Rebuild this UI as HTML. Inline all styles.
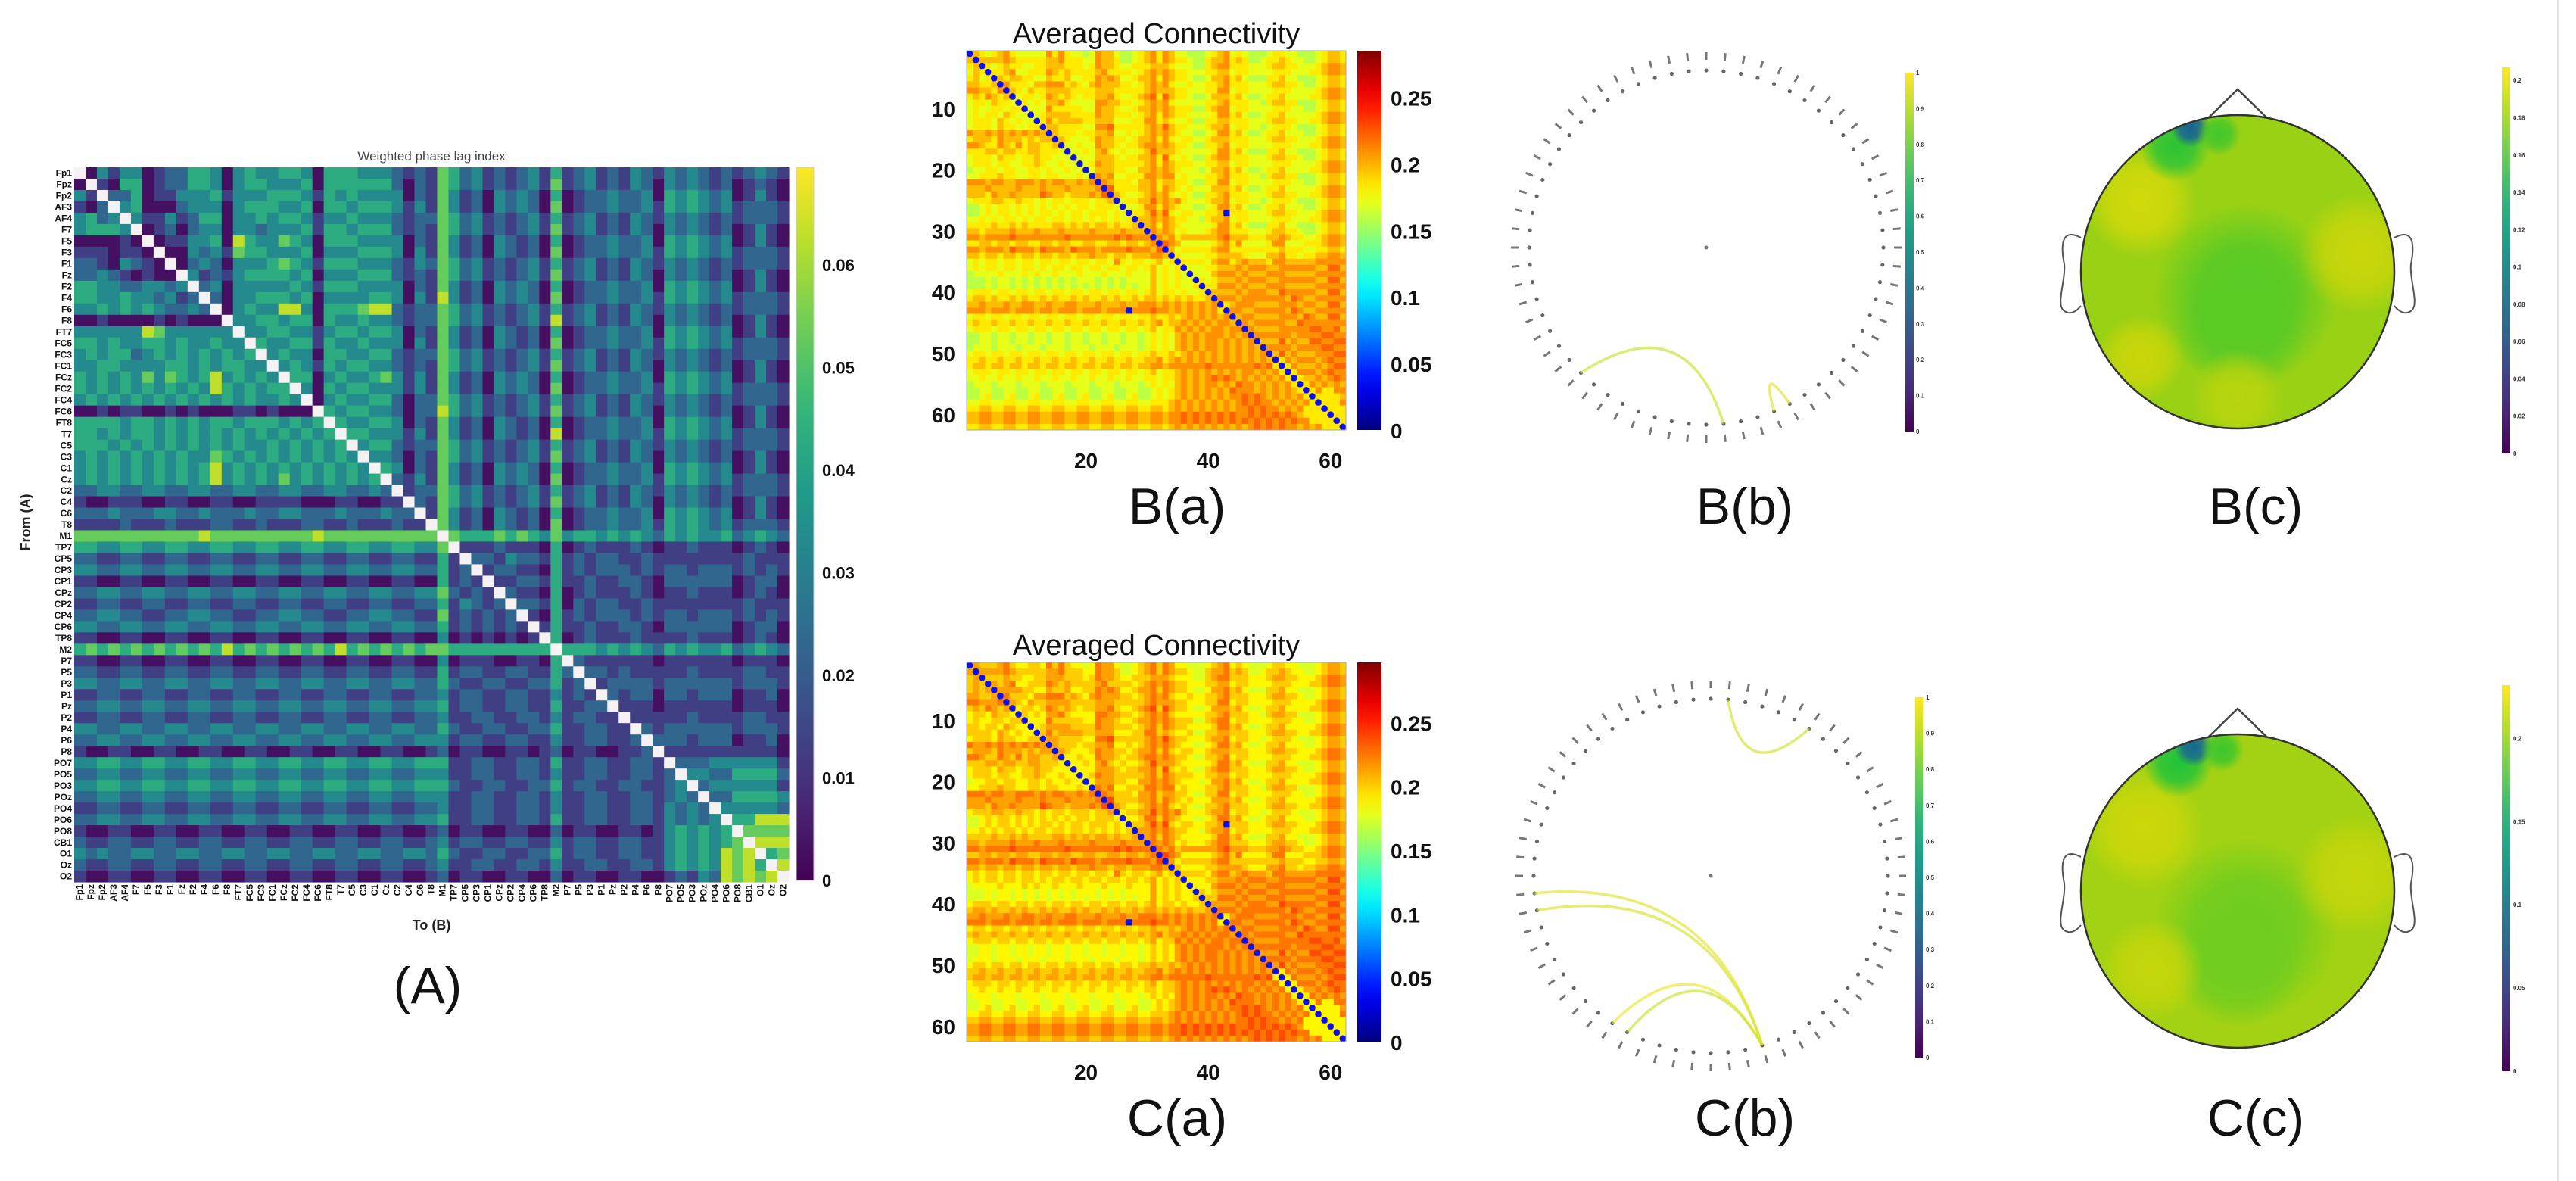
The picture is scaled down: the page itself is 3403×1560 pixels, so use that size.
<!DOCTYPE html>
<html><head><meta charset="utf-8"><title>Connectivity figure</title>
<style>
html,body{margin:0;padding:0;background:#fff;}
#fig{position:absolute;left:0;top:0;width:3403px;height:1560px;overflow:hidden;background:#fff;}
svg text{font-family:"Liberation Sans",Arial,sans-serif;}
</style></head>
<body>
<div id="fig">
<svg id="svg" width="3403" height="1560" viewBox="0 0 3403 1560" xmlns="http://www.w3.org/2000/svg"></svg>
</div>
<script>
// ================= DATA =================
const channelNames = ["Fp1","Fpz","Fp2","AF3","AF4","F7","F5","F3","F1","Fz","F2","F4","F6","F8","FT7","FC5","FC3","FC1","FCz","FC2","FC4","FC6","FT8","T7","C5","C3","C1","Cz","C2","C4","C6","T8","M1","TP7","CP5","CP3","CP1","CPz","CP2","CP4","CP6","TP8","M2","P7","P5","P3","P1","Pz","P2","P4","P6","P8","PO7","PO5","PO3","POz","PO4","PO6","PO8","CB1","O1","Oz","O2"];
// (A) wPLI lower-triangle levels (digit * scale)
const wpliRows = [
"","0","31","102","3423","34443","000010","1110110","22103210","223210100",
"4433223323","44334332312","334343432232","0010000101000","33333365333333","443433443433433","3434423434343434","33443333443434433","434343535434634343","4343434343436434344",
"34343434343434343343","001011001010001101000","4444344343434434443434","44343443434343434343434","444343434343434334343434","3434343434335434343434343","34343434343463434343434343","343434343434634343534343434","2233223322332233223322332232","10011100110011001111000110011",
"222322233223222322332223222322","1111211121112211211122112111211","55555555555655555555565555555555","443344334433443344334433443344335","2211221122112211221122112211221141","33223322332233223322332233223322412","110011001100110011001100110011004121","2233223322332233223322332233223352121","11221122112211221122112211221122413212","223322112233221122332211223322115121212",
"3322332233223322332233223322332241212121","11001100110011001100110011001100301010101","454545454545464545454546454545455444444444","1100110011001100110011001100110030111001104","22112211221122112211221122112211412211221142","332233223322332233223322332233224211221122412","1122112211221122112211221122112231221122113121","22332233223322332233223322332233412211221141122","112211221122112211221122112211223112211221312211","3322332233223322332233223322332242112211224112211",
"22332233223322332233223322332233312211221131122112","10011001100110011001100110011001201100110120110011","3344334433443344334433443344334441122112214112211221","22332233223322332233223322332233311221122131122112212","334433443344334433443344334433444211221122412211221123","2233223322332233223322332233223331122112213112211221232","11221122112211221122112211221122311221122131122112213232","223322332233223322332233223322334112211221411221122132323","1001100110011001100110011001100120110011002011001101343434","21122112211221122112211221122112312211221131221122113434345",
"323223322332233223322332233223324211221122412211221134343656","2112211221122112211221122112211231122112213112211221343436564","10011001100110011001100110011001201100110020110011001213265656"
];
const wpliScale = 0.0100;
const wpliMax = 0.0695;
const wpliTicks = [0, 0.01, 0.02, 0.03, 0.04, 0.05, 0.06];
const wpliTickLabels = ["0","0.01","0.02","0.03","0.04","0.05","0.06"];

// B(a) / C(a) averaged connectivity lower-triangle levels (base + digit*step), z = 0
const connRowsB = [
"","5","45","354","4534","55445","665546","4546545","34435443","343344344",
"3434435433","34443543433","344435443344","6556565656565","45554655545455","665446546455445","4445545544554443","34443544344544333","344434433445433433","2334434433443433433",
"33444544334434433343","666566556665656655656","5556555565556555655556","55546556555576554555657","344455445443434434443445","2234344343434343434434443","22343443434344343443444343","334343443434434434434343434","4444544545444455454545545445","55455556555655565555655556555",
"665666676666666676666666767666","4455455455445545544554455455456","66566657666576665766656666766657","554554554554554554556554554555665","3434434434434434434434436434434534","34344344344343443443443443443453434","233334333434334333433343334333534343","2223233232323232323332323233335343433","22232332323232323232323232323353434334","344434434434434434434434434434534434334",
"4554544545445454454544545445455454545445","55655565566556556655565556556665656565656","66656665666566566656665666z66676656565656","3443443443443443443443443443445445456565656","45445445445445445445445445445456455656565665","344434434434434434434434434434534465656566566","2233233233233233233233233233234343565656665656","22332332332332332332332332332343435656566565656","233323332333233323332333233323434356565665656565","3443443443443443443443443443445445456565656565656",
"44544544544544544544544544544556456565656565656565","45545545545545545545545545545566566666676666666767","344434434434434434434434434434534456565656565665656","3343343343343343343343343343344344565656767656565656","23332333233323332333233323332343435656566565766565656","223322332233223322332233223322343456565656576665656565","2234223422342234223422342234223434565656565667676565656","33443344334433443344334433443344456565656565676766565656","4455445544554455445544554455445545656565656566767665656","5566556655665566556655665566556656676767676766767676765",
"55665566556655665566556655665566566767676767676767676766","4455445544554455445544554455445545656565656565676767665656"
];
const connRowsC = [
"","6","56","565","5656","66556","776667","5657656","45546554","454455455",
"5545546544","55554654544","455546554455","7667676767676","56665766656566","776557657566556","5556656655665554","45554655455655444","455545544556544544","3445545544554544544",
"44555655445545544454","777677667776767766767","6667666676667666766667","66657667666687665666768","455566556554545545554556","3345455454545454545545554","33454554545455454554555454","445454554545545545545454545","5555655656555566565656656556","66566667666766676666766667666",
"776777787777777787777777878777","5566566566556656655665566566567","77677768777687776877767777877768","665665665665665665667665665666776","4545545545545545545545547545545645","45455455455454554554554554554564545","344445444545445444544454445444645454","3334344343434343434443434344446454544","33343443434343434343434343434464545445","455545545545545545545545545545645545445",
"5665655656556565565655656556566565656556","66766676677667667766676667667776767676767","77767776777677677767776777z77787767676767","4554554554554554554554554554556556567676767","56556556556556556556556556556567566767676776","455545545545545545545545545545645576767677677","3344344344344344344344344344345454676767776767","33443443443443443443443443443454546767677676767","344434443444344434443444344434545467676776767676","4554554554554554554554554554556556567676767676767",
"55655655655655655655655655655667567676767676767676","56656656656656656656656656656677677777787777777878","455545545545545545545545545545645567676767676776767","4454454454454454454454454454455455676767878767676767","34443444344434443444344434443454546767677676877676767","334433443344334433443344334433454567676767687776767676","3345334533453345334533453345334545676767676778787676767","44554455445544554455445544554455567676767676787877676767","5566556655665566556655665566556656767676767677878776767","6677667766776677667766776677667767787878787877878787876",
"66776677667766776677667766776677677878787878787878787877","5566556655665566556655665566556656767676767676787878776767"
];
const connBaseB = 0.134;
const connBaseC = 0.138;
const connStep = 0.0125;
const connMaxB = 0.285;
const connMaxC = 0.297;
const connTicks = [0, 0.05, 0.1, 0.15, 0.2, 0.25];
const connTickLabels = ["0","0.05","0.1","0.15","0.2","0.25"];
const connAxisTicks = [10, 20, 30, 40, 50, 60];
const connXTicks = [20, 40, 60];

// circle plots
const nodeCount = 64;
const chordPairsB = [[40, 31], [28, 27]];
const chordStrengthB = [0.92, 0.95];
const chordPairsC = [[1, 6], [47, 29], [46, 29], [38, 29], [37, 29]];
const chordStrengthC = [0.93, 0.95, 0.94, 0.97, 0.92];
const circleTicks = [0, 0.1, 0.2, 0.3, 0.4, 0.5, 0.6, 0.7, 0.8, 0.9, 1];
const circleTickLabels = ["0","0.1","0.2","0.3","0.4","0.5","0.6","0.7","0.8","0.9","1"];

// topomaps (normalized head coords, values)
const topoBaseB = 0.166;
const topoSpotX_B = [0.05, 0.02, -0.62, 0.78, -0.62, 0.0, -0.4, -0.3, -0.12];
const topoSpotY_B = [0.15, 0.35, -0.45, -0.12, 0.55, 0.8, -0.8, -0.92, -0.88];
const topoSpotR_B = [0.42, 0.3, 0.26, 0.28, 0.2, 0.22, 0.16, 0.09, 0.1];
const topoSpotV_B = [0.145, 0.147, 0.19, 0.185, 0.185, 0.178, 0.13, 0.05, 0.14];
const topoMaxB = 0.207;
const topoTicksB = [0, 0.02, 0.04, 0.06, 0.08, 0.1, 0.12, 0.14, 0.16, 0.18, 0.2];
const topoTickLabelsB = ["0","0.02","0.04","0.06","0.08","0.1","0.12","0.14","0.16","0.18","0.2"];

const topoBaseC = 0.19;
const topoSpotX_C = [0.05, 0.0, -0.6, 0.75, -0.55, -0.38, -0.28, -0.1];
const topoSpotY_C = [0.25, 0.45, -0.4, -0.1, 0.5, -0.82, -0.92, -0.9];
const topoSpotR_C = [0.42, 0.3, 0.28, 0.28, 0.24, 0.16, 0.09, 0.1];
const topoSpotV_C = [0.17, 0.172, 0.21, 0.205, 0.205, 0.14, 0.06, 0.155];
const topoMaxC = 0.232;
const topoTicksC = [0, 0.05, 0.1, 0.15, 0.2];
const topoTickLabelsC = ["0","0.05","0.1","0.15","0.2"];

// ================= HELPERS =================
const NS = "http://www.w3.org/2000/svg";
const svg = document.getElementById("svg");
function mk(tag, attrs, parent) {
  const e = document.createElementNS(NS, tag);
  for (const k in attrs) e.setAttribute(k, attrs[k]);
  (parent || svg).appendChild(e);
  return e;
}
function txt(str, attrs, parent) {
  const e = mk("text", attrs, parent);
  e.textContent = str;
  return e;
}
function lerpColor(stops, t) {
  t = Math.max(0, Math.min(1, t));
  const n = stops.length - 1, p = t * n, i = Math.min(n - 1, Math.floor(p)), f = p - i;
  const a = stops[i], b = stops[i + 1];
  const c = [0, 1, 2].map(k => Math.round(a[k] + (b[k] - a[k]) * f));
  return "rgb(" + c.join(",") + ")";
}
const VIR = [[68,1,84],[72,40,120],[62,73,137],[49,104,142],[38,130,142],[31,158,137],[53,183,121],[110,206,88],[181,222,43],[253,231,37]];
const TOPO = [[60,10,110],[40,50,150],[25,90,150],[15,130,140],[8,165,110],[10,192,70],[60,198,45],[140,208,24],[200,214,10],[240,224,10]];
function viridis(t) { return lerpColor(VIR, t); }
function topoColor(t) { return lerpColor(TOPO, t); }
function jet(t) {
  t = Math.max(0, Math.min(1, t));
  const cl = v => Math.round(255 * Math.max(0, Math.min(1, v)));
  return "rgb(" + cl(1.5 - Math.abs(4 * t - 3)) + "," + cl(1.5 - Math.abs(4 * t - 2)) + "," + cl(1.5 - Math.abs(4 * t - 1)) + ")";
}
const defs = mk("defs", {});
let gradId = 0;
function vGradient(fn) {
  const id = "g" + (gradId++);
  const g = mk("linearGradient", {id: id, x1: "0", y1: "1", x2: "0", y2: "0"}, defs);
  for (let i = 0; i <= 20; i++) mk("stop", {offset: (i / 20), "stop-color": fn(i / 20)}, g);
  return id;
}

// ================= PANEL A =================
(function () {
  const x0 = 98, y0 = 221, size = 944, n = channelNames.length, cs = size / n;
  const xs = i => x0 + i * cs, ys = i => y0 + i * cs;
  const color = v => viridis(v / wpliMax);
  const g = mk("g", {});
  
  
  function val(i, j) {
    const r = Math.max(i, j), c = Math.min(i, j);
    const ch = (wpliRows[r] || "")[c] || "2";
    return Math.min(wpliMax, parseInt(ch, 10) * wpliScale + 0.003);
  }
  for (let i = 0; i < n; i++) {
    for (let j = 0; j < n; j++) {
      const fill = i === j ? "#f6f2f4" : color(val(i, j));
      const r = mk("rect", {x: xs(j).toFixed(2), y: ys(i).toFixed(2), width: (cs + 0.6).toFixed(2), height: (cs + 0.6).toFixed(2), fill: fill}, g);
      
      
    }
  }
  const t = txt("Weighted phase lag index", {x: 570, y: 212, "font-size": 17, fill: "#444", "text-anchor": "middle"});
  
  
  for (let i = 0; i < n; i++) {
    const yl = txt(channelNames[i], {x: 95, y: ys(i) + cs * 0.78, "font-size": 12, "font-weight": "bold", fill: "#111", "text-anchor": "end"});
    
    
    const cx = xs(i) + cs * 0.75;
    const xl = txt(channelNames[i], {x: cx, y: 1168, "font-size": 12, "font-weight": "bold", fill: "#111", "text-anchor": "end", transform: "rotate(-90 " + cx + " 1168)"});
    
    
  }
  const xt = txt("To (B)", {x: 570, y: 1228, "font-size": 18, "font-weight": "bold", fill: "#222", "text-anchor": "middle"});
  
  
  const yt = txt("From (A)", {x: 40, y: 690, "font-size": 18, "font-weight": "bold", fill: "#222", "text-anchor": "middle", transform: "rotate(-90 40 690)"});
  
  
  const cb0 = 1163, cb1 = 221, cbS = v => cb0 - (v / wpliMax) * (cb0 - cb1);
  const cb = mk("rect", {x: 1052, y: cb1, width: 23, height: cb0 - cb1, fill: "url(#" + vGradient(viridis) + ")", stroke: "#ccc", "stroke-width": 1});
  
  
  wpliTicks.forEach((v, k) => {
    const l = txt(wpliTickLabels[k], {x: 1086, y: cbS(v) + 8, "font-size": 22, "font-weight": "bold", fill: "#111"});
    
    
  });
  const lab = txt("(A)", {x: 565, y: 1325, "font-size": 68, fill: "#111", "text-anchor": "middle"});
  
  
})();

// ================= PANELS B(a), C(a) =================
function connPanel(rows, base, top, vmax, name, label) {
  const x0 = 1277, size = 501, n = 62, cs = size / n;
  const xs = j => x0 + j * cs, ys = i => top + i * cs;
  const g = mk("g", {});
  
  
  function val(i, j) {
    const r = Math.max(i, j), c = Math.min(i, j);
    const ch = (rows[r] || "")[c] || "4";
    if (ch === "z") return 0;
    return base + parseInt(ch, 10) * connStep;
  }
  for (let i = 0; i < n; i++) {
    for (let j = 0; j < n; j++) {
      const r = mk("rect", {x: xs(j).toFixed(2), y: ys(i).toFixed(2), width: (cs + 0.5).toFixed(2), height: (cs + 0.5).toFixed(2), fill: i === j ? "none" : jet(val(i, j) / vmax)}, g);
      
      
      if (i === j || val(i, j) === 0) {
        if (i === j) r.setAttribute("fill", jet(val(i, Math.max(0, j - 1)) / vmax));
        const d = mk("circle", {cx: xs(j) + cs / 2, cy: ys(i) + cs / 2, r: cs * 0.55, fill: "#1010e8"}, g);
        
        
      }
    }
  }
  const fr = mk("rect", {x: x0, y: top, width: size, height: size, fill: "none", stroke: "#9ab", "stroke-width": 1});
  
  
  const t = txt("Averaged Connectivity", {x: x0 + size / 2, y: top - 10, "font-size": 38, fill: "#111", "text-anchor": "middle"});
  
  
  connAxisTicks.forEach(v => {
    const l = txt(String(v), {x: 1262, y: ys(v - 0.5) + 10, "font-size": 28, "font-weight": "bold", fill: "#111", "text-anchor": "end"});
    
    
  });
  connXTicks.forEach(v => {
    const l = txt(String(v), {x: xs(v - 0.5), y: top + size + 50, "font-size": 28, "font-weight": "bold", fill: "#111", "text-anchor": "middle"});
    
    
  });
  const cb0 = top + size, cbS = v => cb0 - (v / vmax) * size;
  const cb = mk("rect", {x: 1793, y: top, width: 32, height: size, fill: "url(#" + vGradient(jet) + ")"});
  
  
  connTicks.forEach((v, k) => {
    const l = txt(connTickLabels[k], {x: 1837, y: cbS(v) + 11, "font-size": 28, "font-weight": "bold", fill: "#111"});
    
    
  });
  const lab = txt(label, {x: 1555, y: top + 625, "font-size": 68, fill: "#111", "text-anchor": "middle"});
  
  
}
connPanel(connRowsB, connBaseB, 67, connMaxB, "b-a", "B(a)");
connPanel(connRowsC, connBaseC, 875, connMaxC, "c-a", "C(a)");

// ================= CIRCLE PLOTS =================
function circlePanel(cx, cy, pairs, strengths, cbX, cbTop, cbBot, name, label, labelY) {
  const R = 234, RL = 253;
  const ang = i => (i * 360 / nodeCount - 90) * Math.PI / 180;
  const px = (i, r) => cx + r * Math.cos(ang(i)), py = (i, r) => cy + r * Math.sin(ang(i));
  for (let i = 0; i < nodeCount; i++) {
    const d = mk("circle", {cx: px(i, R), cy: py(i, R), r: 2.6, fill: "#666"});
    
    
    const deg = i * 360 / nodeCount - 90;
    const m = mk("rect", {x: px(i, RL) - 5, y: py(i, RL) - 1.5, width: 10, height: 3, fill: "#777", transform: "rotate(" + deg + " " + px(i, RL) + " " + py(i, RL) + ")"});
    
    
  }
  const c = mk("circle", {cx: cx, cy: cy, r: 2.5, fill: "#777"});
  
  
  pairs.forEach((p, k) => {
    const x1 = px(p[0], R), y1 = py(p[0], R), x2 = px(p[1], R), y2 = py(p[1], R);
    let dn = Math.abs(p[0] - p[1]); dn = Math.min(dn, nodeCount - dn);
    const kk = Math.max(0, 1 - dn / 18) * 0.75;
    const mx = (x1 + x2) / 2, my = (y1 + y2) / 2;
    const qx = cx + kk * (mx - cx), qy = cy + kk * (my - cy);
    const path = mk("path", {d: "M" + x1 + " " + y1 + " Q" + qx + " " + qy + " " + x2 + " " + y2, fill: "none", stroke: viridis(strengths[k]), "stroke-opacity": 0.65, "stroke-width": 3.5});
    
    
  });
  const cb = mk("rect", {x: cbX, y: cbTop, width: 11, height: cbBot - cbTop, fill: "url(#" + vGradient(viridis) + ")"});
  
  
  circleTicks.forEach((v, k) => {
    const l = txt(circleTickLabels[k], {x: cbX + 14, y: cbBot - v * (cbBot - cbTop) + 3, "font-size": 8, "font-weight": "bold", fill: "#333"});
    
    
  });
  const lab = txt(label, {x: 2305, y: labelY, "font-size": 68, fill: "#111", "text-anchor": "middle"});
  
  
}
circlePanel(2254, 327, chordPairsB, chordStrengthB, 2517, 96, 570, "b-b", "B(b)", 692);
circlePanel(2260, 1157, chordPairsC, chordStrengthC, 2530, 921, 1397, "c-b", "C(b)", 1500);

// ================= TOPOMAPS =================
function topoPanel(cx, cy, base, sx, sy, sr, sv, vmax, ticks, tickLabels, cbTop, cbBot, name, label, labelY) {
  const R = 207;
  const cid = "clip-" + name;
  const cp = mk("clipPath", {id: cid}, defs);
  mk("circle", {cx: cx, cy: cy, r: R}, cp);
  const nose = mk("polyline", {points: (cx - 38) + "," + (cy - R + 3) + " " + cx + "," + (cy - R - 34) + " " + (cx + 38) + "," + (cy - R + 3), fill: "none", stroke: "#444", "stroke-width": 2.5});
  
  
  [-1, 1].forEach(s => {
    const ex = cx + s * R;
    const e = mk("path", {d: "M" + ex + " " + (cy - 45) + " C" + (ex + s * 28) + " " + (cy - 60) + " " + (ex + s * 26) + " " + (cy - 30) + " " + (ex + s * 22) + " " + (cy - 10) + " C" + (ex + s * 20) + " " + (cy + 10) + " " + (ex + s * 32) + " " + (cy + 40) + " " + (ex + s * 24) + " " + (cy + 50) + " C" + (ex + s * 14) + " " + (cy + 60) + " " + (ex + s * 4) + " " + (cy + 50) + " " + ex + " " + (cy + 45), fill: "#fff", stroke: "#555", "stroke-width": 2});
    
    
  });
  const g = mk("g", {"clip-path": "url(#" + cid + ")"});
  
  
  const b = mk("circle", {cx: cx, cy: cy, r: R, fill: topoColor(base / vmax)}, g);
  
  
  sx.forEach((x, k) => {
    const id = "rg-" + name + k;
    const rg = mk("radialGradient", {id: id}, defs);
    const col = topoColor(sv[k] / vmax);
    mk("stop", {offset: 0, "stop-color": col, "stop-opacity": 1}, rg);
    mk("stop", {offset: 0.55, "stop-color": col, "stop-opacity": 0.8}, rg);
    mk("stop", {offset: 1, "stop-color": col, "stop-opacity": 0}, rg);
    const s = mk("circle", {cx: cx + x * R, cy: cy + sy[k] * R, r: sr[k] * R * 1.4, fill: "url(#" + id + ")"}, g);
    
    
  });
  const o = mk("circle", {cx: cx, cy: cy, r: R, fill: "none", stroke: "#333", "stroke-width": 2.5});
  
  
  const cb = mk("rect", {x: 3305, y: cbTop, width: 11, height: cbBot - cbTop, fill: "url(#" + vGradient(viridis) + ")"});
  
  
  ticks.forEach((v, k) => {
    const l = txt(tickLabels[k], {x: 3320, y: cbBot - (v / vmax) * (cbBot - cbTop) + 3, "font-size": 8, "font-weight": "bold", fill: "#333"});
    
    
  });
  const lab = txt(label, {x: 2980, y: labelY, "font-size": 68, fill: "#111", "text-anchor": "middle"});
  
  
}
topoPanel(2956, 359, topoBaseB, topoSpotX_B, topoSpotY_B, topoSpotR_B, topoSpotV_B, topoMaxB, topoTicksB, topoTickLabelsB, 89, 599, "b-c", "B(c)", 692);
topoPanel(2956, 1177, topoBaseC, topoSpotX_C, topoSpotY_C, topoSpotR_C, topoSpotV_C, topoMaxC, topoTicksC, topoTickLabelsC, 905, 1415, "c-c", "C(c)", 1500);

const edge = mk("rect", {x: 3378, y: 0, width: 2, height: 1560, fill: "#e2e2e2"});


</script>
</body></html>
